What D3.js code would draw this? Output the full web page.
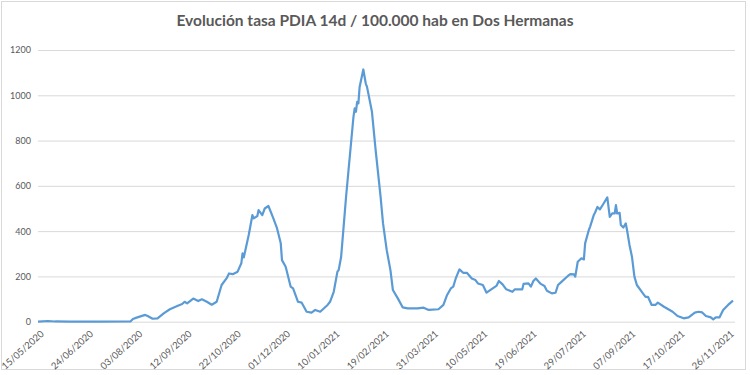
<!DOCTYPE html>
<html>
<head>
<meta charset="utf-8">
<script src="https://cdn.jsdelivr.net/npm/d3@7"></script>
<style>
  body { margin: 0; background: #fff; }
  text { font-family: Lato, "Open Sans", sans-serif; }
</style>
</head>
<body>
<script>
'use strict';

// values (tasa por 100.000 hab, 14 dias)
var dates = [
  '15/05/2020','23/05/2020','29/05/2020','10/06/2020','04/07/2020','29/07/2020','31/07/2020','03/08/2020',
  '10/08/2020','12/08/2020','16/08/2020','20/08/2020','25/08/2020','30/08/2020','05/09/2020','09/09/2020',
  '11/09/2020','13/09/2020','18/09/2020','22/09/2020','25/09/2020','29/09/2020','03/10/2020','07/10/2020',
  '11/10/2020','15/10/2020','17/10/2020','20/10/2020','24/10/2020','27/10/2020','28/10/2020','29/10/2020',
  '02/11/2020','05/11/2020','06/11/2020','09/11/2020','10/11/2020','13/11/2020','15/11/2020','18/11/2020',
  '22/11/2020','25/11/2020','28/11/2020','29/11/2020','02/12/2020','06/12/2020','08/12/2020','12/12/2020',
  '15/12/2020','19/12/2020','23/12/2020','26/12/2020','30/12/2020','05/01/2021','07/01/2021','10/01/2021',
  '13/01/2021','14/01/2021','16/01/2021','18/01/2021','20/01/2021','22/01/2021','24/01/2021','26/01/2021',
  '27/01/2021','28/01/2021','29/01/2021','30/01/2021','31/01/2021','03/02/2021','05/02/2021','06/02/2021',
  '10/02/2021','13/02/2021','17/02/2021','19/02/2021','22/02/2021','25/02/2021','27/02/2021','03/03/2021',
  '07/03/2021','11/03/2021','19/03/2021','24/03/2021','28/03/2021','05/04/2021','09/04/2021','12/04/2021',
  '15/04/2021','17/04/2021','19/04/2021','22/04/2021','25/04/2021','28/04/2021','02/05/2021','05/05/2021',
  '07/05/2021','11/05/2021','14/05/2021','19/05/2021','22/05/2021','24/05/2021','27/05/2021','30/05/2021',
  '04/06/2021','06/06/2021','12/06/2021','13/06/2021','17/06/2021','19/06/2021','21/06/2021','23/06/2021',
  '27/06/2021','30/06/2021','02/07/2021','06/07/2021','09/07/2021','11/07/2021','14/07/2021','19/07/2021',
  '21/07/2021','24/07/2021','25/07/2021','27/07/2021','30/07/2021','01/08/2021','02/08/2021','05/08/2021',
  '06/08/2021','09/08/2021','10/08/2021','12/08/2021','14/08/2021','17/08/2021','20/08/2021','22/08/2021',
  '24/08/2021','26/08/2021','27/08/2021','28/08/2021','30/08/2021','31/08/2021','02/09/2021','04/09/2021',
  '05/09/2021','07/09/2021','09/09/2021','11/09/2021','13/09/2021','17/09/2021','20/09/2021','22/09/2021',
  '25/09/2021','28/09/2021','30/09/2021','05/10/2021','12/10/2021','16/10/2021','21/10/2021','25/10/2021',
  '30/10/2021','02/11/2021','05/11/2021','08/11/2021','12/11/2021','14/11/2021','16/11/2021','19/11/2021',
  '22/11/2021','26/11/2021','30/11/2021'
];

var tasa = [
  0, 3, 1, 0, 0, 1, 12, 18,
  30, 25, 13, 15, 37, 55, 69, 78,
  88, 81, 102, 91, 99, 88, 75, 88,
  162, 191, 213, 210, 221, 258, 302, 284,
  383, 471, 456, 467, 493, 471, 500, 511,
  456, 412, 346, 272, 243, 155, 147, 88,
  84, 44, 40, 52, 44, 74, 88, 132,
  221, 228, 287, 419, 552, 670, 787, 905,
  942, 927, 971, 964, 1037, 1114, 1052, 1037,
  927, 758, 552, 434, 316, 228, 140, 103,
  63, 59, 59, 62, 52, 55, 74, 118,
  147, 155, 191, 231, 216, 216, 191, 184,
  169, 162, 128, 147, 158, 180, 165, 143,
  132, 143, 143, 167, 169, 155, 180, 191,
  167, 158, 137, 125, 128, 162, 177, 202,
  210, 209, 199, 265, 280, 275, 346, 405,
  419, 471, 481, 507, 496, 522, 549, 463,
  478, 478, 515, 478, 481, 427, 416, 434,
  405, 339, 287, 199, 162, 132, 110, 110,
  74, 74, 84, 66, 44, 25, 15, 19,
  40, 44, 41, 25, 19, 10, 19, 19,
  52, 74, 93
];

var xTickLabels = ['15/05/2020','24/06/2020','03/08/2020','12/09/2020','22/10/2020','01/12/2020',
  '10/01/2021','19/02/2021','31/03/2021','10/05/2021','19/06/2021','29/07/2021','07/09/2021',
  '17/10/2021','26/11/2021'];
var yTicks = [0, 200, 400, 600, 800, 1000, 1200];
var title = 'Evolución tasa PDIA 14d / 100.000 hab en Dos Hermanas';

var width = 750;
var height = 375;
var parse = d3.timeParse('%d/%m/%Y');

var svg = d3.select('body').append('svg')
  .attr('width', width)
  .attr('height', height);

// chart frame
svg.append('rect')
  .attr('x', 1.5).attr('y', 1.5)
  .attr('width', 744).attr('height', 368)
  .attr('fill', '#fff')
  .attr('stroke', '#d9d9d9');

var x = d3.scaleTime()
  .domain([parse(dates[0]), parse(dates[dates.length - 1])])
  .range([38, 733]);

var y = d3.scaleLinear()
  .domain([0, 1200])
  .range([321.7, 50]);

svg.append('text')
  .attr('x', 375)
  .attr('y', 26)
  .attr('text-anchor', 'middle')
  .attr('fill', '#595959')
  .style('font-size', '15.5px')
  .style('font-weight', 'bold')
  .text(title);

// gridlines + y labels
var yAxis = svg.append('g')
  .attr('transform', 'translate(38,0)')
  .call(d3.axisLeft(y).tickValues(yTicks).tickSize(-697).tickPadding(7)
    .tickFormat(d3.format('d')));
yAxis.select('.domain').remove();
yAxis.selectAll('line').attr('stroke', '#d9d9d9');
yAxis.selectAll('text').attr('fill', '#595959').style('font-size', '9px')
  .style('font-family', 'Lato, "Open Sans", sans-serif');

// x axis with rotated date labels
var xAxis = svg.append('g')
  .attr('transform', 'translate(0,' + y(0) + ')')
  .call(d3.axisBottom(x).tickValues(xTickLabels.map(parse)).tickSize(0)
    .tickFormat(d3.timeFormat('%d/%m/%Y')));
xAxis.select('.domain').remove();
xAxis.selectAll('text')
  .attr('fill', '#595959')
  .style('font-size', '9.5px')
  .style('font-family', 'Lato, "Open Sans", sans-serif')
  .attr('text-anchor', 'end')
  .attr('dy', null)
  .attr('y', 0)
  .attr('transform', 'translate(6,13) rotate(-42)');

var line = d3.line()
  .x(function(d, i) { return x(parse(dates[i])); })
  .y(function(d) { return y(d); });

svg.append('path')
  .datum(tasa)
  .attr('fill', 'none')
  .attr('stroke', '#5b9bd5')
  .attr('stroke-width', 2.2)
  .attr('stroke-linejoin', 'round')
  .attr('d', line);
</script>
</body>
</html>
